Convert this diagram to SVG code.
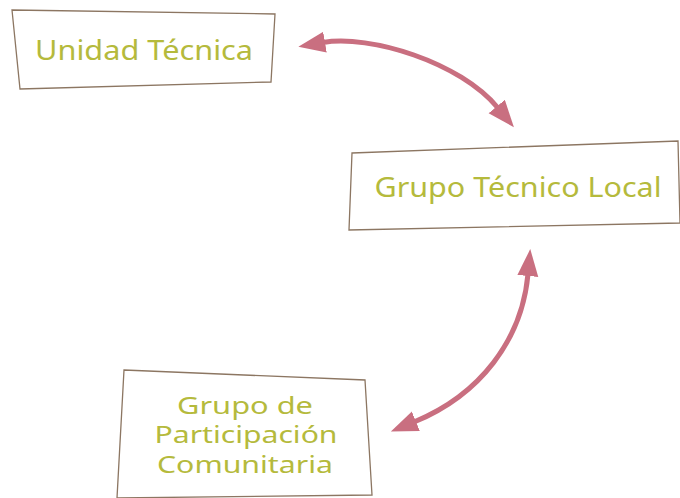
<svg xmlns="http://www.w3.org/2000/svg" width="680" height="498" viewBox="0 0 680 498">
<defs>
<style>
.box{fill:#ffffff;stroke:#8c7662;stroke-width:1.3;}
.lbl{font-family:"Noto Sans","Open Sans",sans-serif;fill:#b5ba3c;text-anchor:middle;}
.conn{fill:none;stroke:#c96f80;stroke-width:5;}
</style>
<marker id="head" markerUnits="userSpaceOnUse" markerWidth="30" markerHeight="24" refX="2" refY="10.5" orient="auto-start-reverse">
<path d="M0,0 L27,10.5 L0,21 z" fill="#c96f80"/>
</marker>
</defs>
<rect width="680" height="498" fill="#ffffff"/>
<g id="unidad-tecnica">
<polygon class="box" points="12,10 275,14 271,82 20,89"/>
<text class="lbl" x="144" y="60" font-size="27" textLength="218" lengthAdjust="spacingAndGlyphs">Unidad Técnica</text>
</g>
<g id="grupo-tecnico-local">
<polygon class="box" points="352,153 678,141 680,223 349,230"/>
<text class="lbl" x="518" y="197" font-size="27" textLength="287" lengthAdjust="spacingAndGlyphs">Grupo Técnico Local</text>
</g>
<g id="grupo-participacion">
<polygon class="box" points="124,370 365,380 372,495 117,498"/>
<text class="lbl" x="245" y="414" font-size="24" textLength="136" lengthAdjust="spacingAndGlyphs">Grupo de</text>
<text class="lbl" x="246" y="443" font-size="24" textLength="183" lengthAdjust="spacingAndGlyphs">Participación</text>
<text class="lbl" x="245" y="473" font-size="24" textLength="176" lengthAdjust="spacingAndGlyphs">Comunitaria</text>
</g>
<g id="connectors">
<path class="conn" d="M323,42.5 C370,34.5 460,62 498,108" marker-start="url(#head)" marker-end="url(#head)"/>
<path class="conn" d="M528,274 C522,340 480,395 414,422" marker-start="url(#head)" marker-end="url(#head)"/>
</g>
</svg>
